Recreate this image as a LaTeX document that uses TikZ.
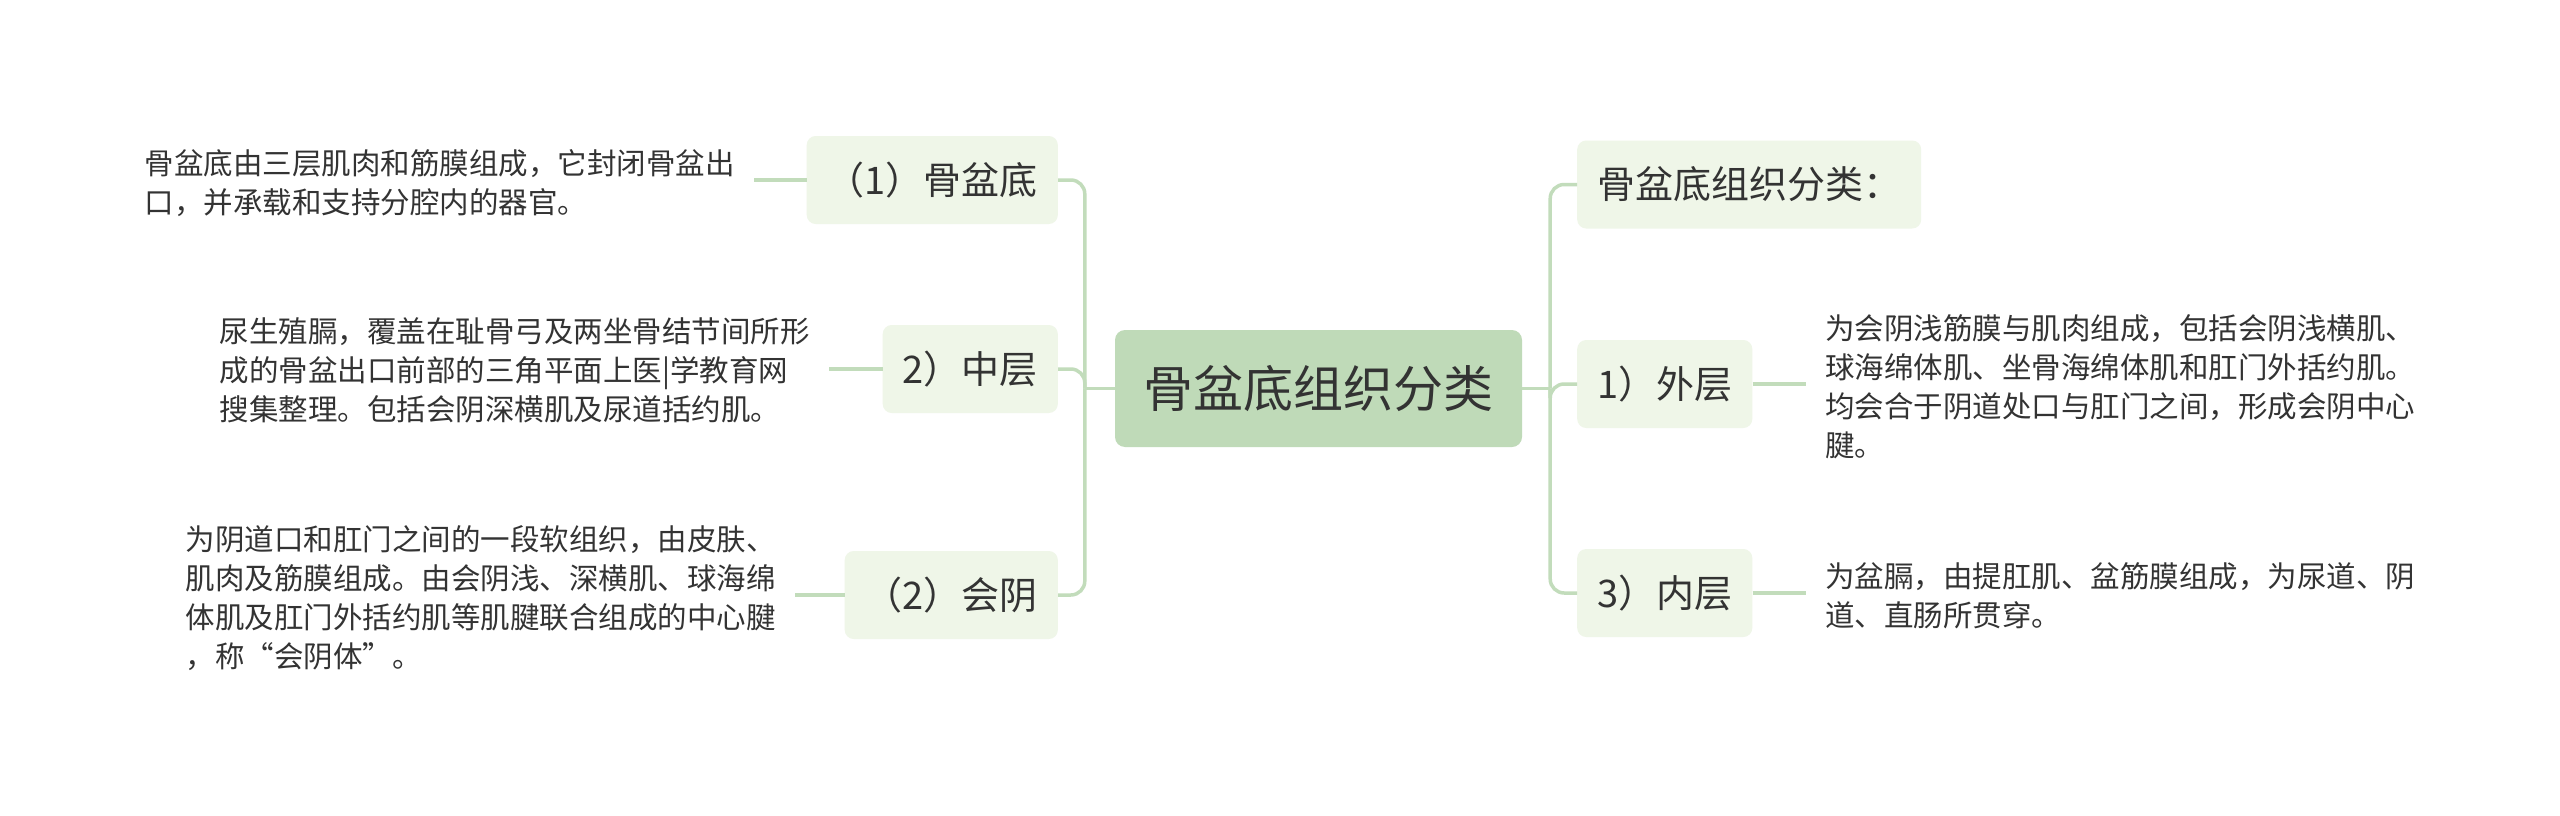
\documentclass[tikz,border=0pt]{standalone}
\usepackage{fontspec}
\setmainfont{Noto Sans CJK SC}
\definecolor{mainfill}{HTML}{BFDAB8}
\definecolor{subfill}{HTML}{EFF6E8}
\definecolor{linecol}{HTML}{C2DCBB}
\definecolor{txt}{HTML}{333333}
\begin{document}
\begin{tikzpicture}[x=1pt,y=-1pt,
  conn/.style={draw=linecol, line width=3.5pt, rounded corners=14pt},
  central/.style={fill=mainfill, rounded corners=10pt, minimum width=407pt, minimum height=117pt, text=txt, font=\fontsize{50}{60}\selectfont, inner sep=0pt},
  branch/.style={fill=subfill, rounded corners=9pt, minimum height=88pt, inner xsep=20pt, inner ysep=0pt, text=txt, font=\fontsize{38}{46}\selectfont},
  leaf/.style={align=left, text=txt, font=\fontsize{29.5}{39}\selectfont, inner xsep=19pt, inner ysep=0pt}
]
\useasboundingbox[fill=white] (0,0) rectangle (2560,816);

\node[central] (c) at (1318.5,388.5) {骨盆底组织分类};

\node[branch, anchor=east] (n1) at (1058,180) {（1）骨盆底};
\node[branch, anchor=east] (n2) at (1058,369) {2）中层};
\node[branch, anchor=east] (n3) at (1058,595) {（2）会阴};
\node[branch, anchor=west] (r0) at (1577,184.5) {骨盆底组织分类：};
\node[branch, anchor=west] (r1) at (1577,384) {1）外层};
\node[branch, anchor=west] (r2) at (1577,593) {3）内层};

\node[leaf, anchor=east] (l1) at (754,183) {骨盆底由三层肌肉和筋膜组成，它封闭骨盆出\\口，并承载和支持分腔内的器官。};
\node[leaf, anchor=east] (l2) at (829,370) {尿生殖膈，覆盖在耻骨弓及两坐骨结节间所形\\成的骨盆出口前部的三角平面上医|学教育网\\搜集整理。包括会阴深横肌及尿道括约肌。};
\node[leaf, anchor=east] (l3) at (795,598) {为阴道口和肛门之间的一段软组织，由皮肤、\\肌肉及筋膜组成。由会阴浅、深横肌、球海绵\\体肌及肛门外括约肌等肌腱联合组成的中心腱\\，称“会阴体”。};
\node[leaf, anchor=west] (l4) at (1806,387) {为会阴浅筋膜与肌肉组成，包括会阴浅横肌、\\球海绵体肌、坐骨海绵体肌和肛门外括约肌。\\均会合于阴道处口与肛门之间，形成会阴中心\\腱。};
\node[leaf, anchor=west] (l5) at (1806,596) {为盆膈，由提肛肌、盆筋膜组成，为尿道、阴\\道、直肠所贯穿。};

\coordinate (tl) at ([xshift=-30pt]c.west);
\coordinate (tr) at ([xshift=28pt]c.east);

\draw[conn] (c.west) -- (tl);
\draw[conn] (tl) |- (n1.east);
\draw[conn] (tl) |- (n2.east);
\draw[conn] (tl) |- (n3.east);
\draw[conn] (c.east) -- (tr);
\draw[conn] (tr) |- (r0.west);
\draw[conn] (tr) |- (r1.west);
\draw[conn] (tr) |- (r2.west);

\draw[conn] (n1.west) -- (n1.west -| l1.east);
\draw[conn] (n2.west) -- (n2.west -| l2.east);
\draw[conn] (n3.west) -- (n3.west -| l3.east);
\draw[conn] (r1.east) -- (r1.east -| l4.west);
\draw[conn] (r2.east) -- (r2.east -| l5.west);
\end{tikzpicture}
\end{document}
